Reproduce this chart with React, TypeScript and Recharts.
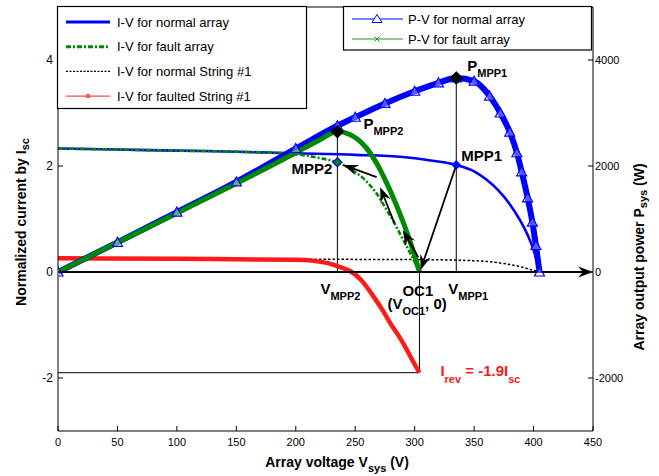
import React from 'react';
import { ComposedChart, Line, XAxis, YAxis, ReferenceLine, ReferenceDot } from 'recharts';

const FONT = '"Liberation Sans", Arial, Helvetica, sans-serif';
const BLUE = '#0000ff';
const GREEN = '#008a00';
const RED = '#ff1a1a';

// axis ticks
const vTicks = [0, 50, 100, 150, 200, 250, 300, 350, 400, 450];
const iTicks = [-2, 0, 2, 4];
const pTicks = [-2000, 0, 2000, 4000];

// I-V for normal array
const ivNormalV = [0, 50, 100, 150, 200, 250, 290, 315, 335, 350, 360, 370, 380, 388, 395, 400, 405];
const ivNormalI = [2.33, 2.31, 2.29, 2.27, 2.24, 2.21, 2.17, 2.1, 2.02, 1.9, 1.75, 1.55, 1.28, 1.0, 0.7, 0.42, 0];

// I-V for fault array
const ivFaultV = [0, 50, 100, 150, 200, 220, 235, 247, 259, 268, 276, 283, 290, 297, 304];
const ivFaultI = [2.33, 2.31, 2.29, 2.27, 2.22, 2.15, 2.07, 1.93, 1.72, 1.48, 1.19, 0.92, 0.62, 0.32, 0];

// I-V for normal String #1
const strNormalV = [0, 100, 200, 300, 340, 360, 375, 387, 397, 405];
const strNormalI = [0.25, 0.245, 0.24, 0.235, 0.22, 0.2, 0.16, 0.11, 0.05, 0];

// I-V for faulted String #1
const strFaultV = [0, 100, 200, 215, 230, 240, 247, 255, 265, 273, 281, 287, 293, 298, 304];
const strFaultI = [0.26, 0.25, 0.23, 0.21, 0.15, 0.07, 0, -0.15, -0.45, -0.72, -1.02, -1.22, -1.45, -1.66, -1.9];

// P-V for normal array (W)
const pvNormalV = [0, 50, 100, 150, 200, 235, 250, 275, 300, 320, 335, 350, 363, 372, 380, 386, 390, 395, 399, 402, 405];
const pvNormalP = [0, 560, 1130, 1700, 2330, 2760, 2920, 3180, 3410, 3570, 3660, 3600, 3320, 3000, 2640, 2250, 1890, 1400, 940, 500, 0];

// P-V for fault array (W)
const pvFaultV = [0, 50, 100, 150, 200, 220, 235, 245, 259, 268, 276, 283, 290, 297, 304];
const pvFaultP = [0, 555, 1110, 1670, 2250, 2490, 2650, 2600, 2350, 2050, 1700, 1350, 960, 520, 0];

// operating points
const vMpp1 = 335;
const vMpp2 = 235;
const vOc1 = 304;
const pMpp1 = 3660;
const pMpp2 = 2650;
const iMpp1 = 2.02;
const iMpp2 = 2.07;
const iRev = -1.9;

const zip = (xs: number[], ys: number[]) => xs.map((v, k) => ({ v, y: ys[k] }));

const LeftTick = (p: any) => (
  <g>
    <line x1={p.x} x2={p.x + 5} y1={p.y} y2={p.y} stroke="#000" />
    <text x={p.x - 5} y={p.y + 4} textAnchor="end" fontSize={12} fontFamily={FONT} fill="#000">
      {p.payload.value}
    </text>
  </g>
);

const RightTick = (p: any) => (
  <g>
    <line x1={p.x - 5} x2={p.x} y1={p.y} y2={p.y} stroke="#000" />
    <text x={p.x + 2} y={p.y + 4} textAnchor="start" fontSize={11} fontFamily={FONT} fill="#000">
      {p.payload.value}
    </text>
  </g>
);

const BottomTick = (p: any) => (
  <g>
    <line x1={p.x} x2={p.x} y1={p.y} y2={p.y - 5} stroke="#000" />
    <text x={p.x} y={p.y + 15} textAnchor="middle" fontSize={11} fontFamily={FONT} fill="#000">
      {p.payload.value}
    </text>
  </g>
);

const arrowShape = (p: any) => {
  const { x1, y1, x2, y2 } = p;
  const dx = x2 - x1;
  const dy = y2 - y1;
  const len = Math.hypot(dx, dy) || 1;
  const ux = dx / len;
  const uy = dy / len;
  const L = 15;
  const W = 5.5;
  const N = 10;
  const bx = x2 - ux * L;
  const by = y2 - uy * L;
  const pts = [
    [x2, y2],
    [bx - uy * W, by + ux * W],
    [x2 - ux * N, y2 - uy * N],
    [bx + uy * W, by - ux * W],
  ]
    .map((q) => q.join(','))
    .join(' ');
  return (
    <g>
      <line x1={x1} y1={y1} x2={x2 - ux * N} y2={y2 - uy * N} stroke="#000" strokeWidth={1.8} />
      <polygon points={pts} fill="#000" />
    </g>
  );
};

const diamond = (fill: string, stroke: string, r: number) => (p: any) => (
  <polygon
    points={`${p.cx},${p.cy - r} ${p.cx + r},${p.cy} ${p.cx},${p.cy + r} ${p.cx - r},${p.cy}`}
    fill={fill}
    stroke={stroke}
    strokeWidth={1.2}
  />
);

const subLabel = (main: string, sub: string, dx: number, dy: number, anchor = 'start') => (p: any) => (
  <text x={p.cx + dx} y={p.cy + dy} textAnchor={anchor} fontFamily={FONT} fontWeight="bold" fontSize={15} fill="#000">
    {main}
    <tspan fontSize={11} dy={6}>{sub}</tspan>
  </text>
);

const plainLabel = (txt: string, dx: number, dy: number, anchor = 'start') => (p: any) => (
  <text x={p.cx + dx} y={p.cy + dy} textAnchor={anchor} fontFamily={FONT} fontWeight="bold" fontSize={15} fill="#000">
    {txt}
  </text>
);

const triangleDot = (p: any) => {
  if (p.cx == null || p.cy == null) return <g key={p.key} />;
  const s = 5;
  return (
    <polygon
      key={p.key}
      points={`${p.cx},${p.cy - s} ${p.cx + s},${p.cy + s * 0.8} ${p.cx - s},${p.cy + s * 0.8}`}
      fill="#fff"
      fillOpacity={0.35}
      stroke={BLUE}
      strokeWidth={1.2}
    />
  );
};

const legendLeft = [
  { name: 'I-V for normal array', color: BLUE, width: 3, dash: undefined as string | undefined, mark: '' },
  { name: 'I-V for fault array', color: GREEN, width: 3, dash: '5 2 2 2', mark: '' },
  { name: 'I-V for normal String #1', color: '#000', width: 1.2, dash: '2 1.5', mark: '' },
  { name: 'I-V for faulted String #1', color: RED, width: 1, dash: undefined, mark: 'o' },
];
const legendRight = [
  { name: 'P-V for normal array', color: BLUE, mark: 't' },
  { name: 'P-V for fault array', color: '#1a9a1a', mark: 'x' },
];

function Overlay() {
  return (
    <svg width={659} height={476} style={{ position: 'absolute', left: 0, top: 0, pointerEvents: 'none' }}>
      <rect x={57.5} y={6.5} width={249} height={102} fill="#fff" stroke="#000" strokeWidth={1.2} />
      {legendLeft.map((e, k) => {
        const cy = 22 + k * 24.7;
        return (
          <g key={e.name}>
            <line x1={66} x2={110} y1={cy} y2={cy} stroke={e.color} strokeWidth={e.width} strokeDasharray={e.dash} />
            {e.mark === 'o' && <circle cx={88} cy={cy} r={1.8} fill="none" stroke={e.color} strokeWidth={1} />}
            <text x={117} y={cy + 4.5} fontSize={13} fontFamily={FONT} fill="#000">
              {e.name}
            </text>
          </g>
        );
      })}
      <rect x={343.5} y={6.5} width={248} height={43.5} fill="#fff" stroke="#000" strokeWidth={1.2} />
      {legendRight.map((e, k) => {
        const cy = 19 + k * 20;
        return (
          <g key={e.name}>
            <line x1={352} x2={403} y1={cy} y2={cy} stroke={e.color} strokeWidth={1} />
            {e.mark === 't' && (
              <polygon points={`377,${cy - 4.5} 382,${cy + 3.5} 372,${cy + 3.5}`} fill="#fff" stroke={e.color} />
            )}
            {e.mark === 'x' && (
              <g stroke={e.color} strokeWidth={1}>
                <line x1={374.5} x2={379.5} y1={cy - 2.5} y2={cy + 2.5} />
                <line x1={374.5} x2={379.5} y1={cy + 2.5} y2={cy - 2.5} />
              </g>
            )}
            <text x={408} y={cy + 4.5} fontSize={13} fontFamily={FONT} fill="#000">
              {e.name}
            </text>
          </g>
        );
      })}
      <text
        transform="rotate(-90 22 222)"
        x={22}
        y={222}
        textAnchor="middle"
        dominantBaseline="middle"
        fontSize={14}
        fontWeight="bold"
        fontFamily={FONT}
      >
        Normalized current by I<tspan fontSize={11} dy={4}>sc</tspan>
      </text>
      <text
        transform="rotate(-90 640 257)"
        x={640}
        y={257}
        textAnchor="middle"
        dominantBaseline="middle"
        fontSize={14}
        fontWeight="bold"
        fontFamily={FONT}
      >
        Array output power P<tspan fontSize={11} dy={4}>sys</tspan>
        <tspan dy={-4}> (W)</tspan>
      </text>
      <text x={337} y={467} textAnchor="middle" fontSize={14} fontWeight="bold" fontFamily={FONT}>
        Array voltage V<tspan fontSize={11} dy={5}>sys</tspan>
        <tspan dy={-5}> (V)</tspan>
      </text>
    </svg>
  );
}

export default function App() {
  return (
    <div style={{ position: 'absolute', left: 0, top: 0, width: 659, height: 476, background: '#fff' }}>
      <ComposedChart width={659} height={476} margin={{ top: 7, right: 0, bottom: 0, left: 0 }}>
        <XAxis
          xAxisId="v"
          type="number"
          dataKey="v"
          domain={[0, 450]}
          ticks={vTicks}
          tick={<BottomTick />}
          tickSize={0}
          tickMargin={0}
          height={45}
          stroke="#000"
          allowDataOverflow
        />
        <YAxis
          yAxisId="i"
          type="number"
          domain={[-3, 5]}
          ticks={iTicks}
          tick={<LeftTick />}
          tickSize={0}
          tickMargin={0}
          width={58}
          stroke="#000"
          allowDataOverflow
        />
        <YAxis
          yAxisId="p"
          orientation="right"
          type="number"
          domain={[-3000, 5000]}
          ticks={pTicks}
          tick={<RightTick />}
          tickSize={0}
          tickMargin={0}
          width={66}
          stroke="#000"
          allowDataOverflow
        />

        {/* top frame */}
        <ReferenceLine xAxisId="v" yAxisId="i" y={5} stroke="#000" />

        {/* guide lines */}
        <ReferenceLine xAxisId="v" yAxisId="p" segment={[{ x: vMpp2, y: 0 }, { x: vMpp2, y: pMpp2 }]} stroke="#000" />
        <ReferenceLine xAxisId="v" yAxisId="p" segment={[{ x: vMpp1, y: 0 }, { x: vMpp1, y: pMpp1 }]} stroke="#000" />
        <ReferenceLine xAxisId="v" yAxisId="i" segment={[{ x: vOc1, y: 0 }, { x: vOc1, y: iRev }]} stroke="#000" />
        <ReferenceLine xAxisId="v" yAxisId="i" segment={[{ x: 0, y: iRev }, { x: vOc1, y: iRev }]} stroke="#000" />

        <Line xAxisId="v" yAxisId="i" data={zip(ivNormalV, ivNormalI)} dataKey="y" stroke={BLUE} strokeWidth={2.6} dot={false} isAnimationActive={false} type="monotone" />
        <Line xAxisId="v" yAxisId="i" data={zip(ivFaultV, ivFaultI)} dataKey="y" stroke={GREEN} strokeWidth={2.6} strokeDasharray="5 2 2 2" dot={false} isAnimationActive={false} type="monotone" />
        <Line xAxisId="v" yAxisId="i" data={zip(strNormalV, strNormalI)} dataKey="y" stroke="#000" strokeWidth={1.5} strokeDasharray="2.5 2" dot={false} isAnimationActive={false} type="monotone" />
        <Line xAxisId="v" yAxisId="i" data={zip(strFaultV, strFaultI)} dataKey="y" stroke={RED} strokeWidth={4.5} dot={false} isAnimationActive={false} type="monotone" />
        <Line xAxisId="v" yAxisId="p" data={zip(pvNormalV, pvNormalP)} dataKey="y" stroke={BLUE} strokeWidth={6} dot={triangleDot} isAnimationActive={false} type="monotone" />
        <Line xAxisId="v" yAxisId="p" data={zip(pvFaultV, pvFaultP)} dataKey="y" stroke={GREEN} strokeWidth={5} dot={false} isAnimationActive={false} type="monotone" />

        {/* zero axis with arrow */}
        <ReferenceLine xAxisId="v" yAxisId="i" segment={[{ x: 0, y: 0 }, { x: 450, y: 0 }]} shape={arrowShape} ifOverflow="visible" />

        {/* arrows */}
        <ReferenceLine xAxisId="v" yAxisId="i" segment={[{ x: vMpp1, y: iMpp1 }, { x: vOc1 + 1, y: 0.04 }]} shape={arrowShape} ifOverflow="visible" />
        <ReferenceLine xAxisId="v" yAxisId="i" segment={[{ x: 268, y: 1.79 }, { x: 240, y: 2.02 }]} shape={arrowShape} ifOverflow="visible" />
        <ReferenceLine xAxisId="v" yAxisId="i" segment={[{ x: 283, y: 0.92 }, { x: 271, y: 1.6 }]} shape={arrowShape} ifOverflow="visible" />
        <ReferenceLine xAxisId="v" yAxisId="i" segment={[{ x: 303, y: 0.28 }, { x: 290, y: 0.79 }]} shape={arrowShape} ifOverflow="visible" />

        {/* markers */}
        <ReferenceDot xAxisId="v" yAxisId="p" x={vMpp1} y={pMpp1} shape={diamond('#000', '#000', 6)} />
        <ReferenceDot xAxisId="v" yAxisId="p" x={vMpp2} y={pMpp2} shape={diamond('#000', '#000', 6)} />
        <ReferenceDot xAxisId="v" yAxisId="i" x={vMpp1} y={iMpp1} shape={diamond(BLUE, BLUE, 4)} />
        <ReferenceDot xAxisId="v" yAxisId="i" x={vMpp2} y={iMpp2} shape={diamond(GREEN, BLUE, 4.5)} />

        {/* labels */}
        <ReferenceDot xAxisId="v" yAxisId="p" x={vMpp1} y={pMpp1} shape={subLabel('P', 'MPP1', 11, -7)} />
        <ReferenceDot xAxisId="v" yAxisId="p" x={vMpp2} y={pMpp2} shape={subLabel('P', 'MPP2', 26, -3)} />
        <ReferenceDot xAxisId="v" yAxisId="i" x={vMpp1} y={iMpp1} shape={plainLabel('MPP1', 5, -4)} />
        <ReferenceDot xAxisId="v" yAxisId="i" x={vMpp2} y={iMpp2} shape={plainLabel('MPP2', -5, 12, 'end')} />
        <ReferenceDot xAxisId="v" yAxisId="i" x={vMpp2} y={0} shape={subLabel('V', 'MPP2', -17, 22)} />
        <ReferenceDot xAxisId="v" yAxisId="i" x={vMpp1} y={0} shape={subLabel('V', 'MPP1', -8, 22)} />
        <ReferenceDot xAxisId="v" yAxisId="i" x={vOc1} y={0} shape={plainLabel('OC1', -17, 24)} />
        <ReferenceDot
          xAxisId="v"
          yAxisId="i"
          x={vOc1}
          y={0}
          shape={(p: any) => (
            <text x={p.cx - 32} y={p.cy + 37} fontFamily={FONT} fontWeight="bold" fontSize={15} fill="#000">
              (V<tspan fontSize={11} dy={6}>OC1</tspan>
              <tspan dy={-6}>, 0)</tspan>
            </text>
          )}
        />
        <ReferenceDot
          xAxisId="v"
          yAxisId="i"
          x={vOc1}
          y={iRev}
          shape={(p: any) => (
            <text x={p.cx + 21} y={p.cy + 3} fontFamily={FONT} fontWeight="bold" fontSize={15} fill={RED}>
              I<tspan fontSize={11} dy={7}>rev</tspan>
              <tspan dy={-7}> = -1.9I</tspan>
              <tspan fontSize={11} dy={7}>sc</tspan>
            </text>
          )}
        />
      </ComposedChart>
      <Overlay />
    </div>
  );
}
